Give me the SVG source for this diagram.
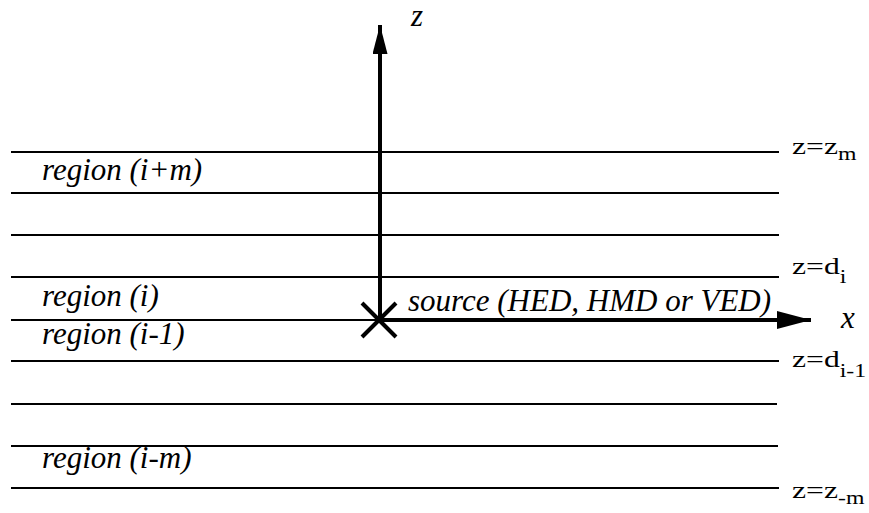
<svg xmlns="http://www.w3.org/2000/svg" width="869" height="513" viewBox="0 0 869 513">
<style>
.ln{stroke:#000;stroke-width:2.2;fill:none}
.ax{stroke:#000;stroke-width:4;fill:none}
.it{font-family:"Liberation Serif","Times New Roman",serif;font-style:italic;font-size:31px;fill:#000}
.rl{font-family:"Liberation Serif","Times New Roman",serif;font-size:24px;fill:#000}
.sb{font-size:18px}
</style>
<defs>
<marker id="ahx" viewBox="0 0 34 18" refX="34" refY="9" markerWidth="34" markerHeight="18" markerUnits="userSpaceOnUse" orient="auto"><path d="M0,0 L34,9 L0,18 Z" fill="#000"/></marker>
<marker id="ahz" viewBox="0 0 29 15" refX="29" refY="7.5" markerWidth="29" markerHeight="15" markerUnits="userSpaceOnUse" orient="auto"><path d="M0,0 L29,7.5 L0,15 Z" fill="#000"/></marker>
</defs>
<g id="layers">
<line class="ln" x1="11" y1="152" x2="779" y2="152"/>
<line class="ln" x1="11" y1="193" x2="779" y2="193"/>
<line class="ln" x1="11" y1="235" x2="779" y2="235"/>
<line class="ln" x1="11" y1="277" x2="779" y2="277"/>
<line class="ln" x1="11" y1="320" x2="779" y2="320"/>
<line class="ln" x1="11" y1="361" x2="779" y2="361"/>
<line class="ln" x1="11" y1="404" x2="777" y2="404"/>
<line class="ln" x1="11" y1="446" x2="778" y2="446"/>
<line class="ln" x1="11" y1="488" x2="779" y2="488"/>
</g>
<g id="connectors">
<line class="ax" x1="380" y1="320" x2="380" y2="25" marker-end="url(#ahz)"/>
<line class="ax" x1="380" y1="320" x2="811" y2="320" marker-end="url(#ahx)"/>
</g>
<g id="source">
<line class="ax" x1="362" y1="303" x2="396" y2="337"/>
<line class="ax" x1="362" y1="337" x2="396" y2="303"/>
<text class="it" x="408" y="311">source (HED, HMD or VED)</text>
</g>
<g id="axis-labels">
<text class="it" x="411" y="26" font-size="28">z</text>
<text class="it" x="841" y="328" font-size="30">x</text>
</g>
<g id="region-labels">
<text class="it" x="42" y="180">region (i+m)</text>
<text class="it" x="42" y="306">region (i)</text>
<text class="it" x="42" y="344">region (i-1)</text>
<text class="it" x="42" y="468">region (i-m)</text>
</g>
<g id="boundary-labels">
<text class="rl" transform="translate(792,154) scale(1.32,1)">z=z<tspan class="sb" dy="6">m</tspan></text>
<text class="rl" transform="translate(792,274) scale(1.32,1)">z=d<tspan class="sb" dy="9">i</tspan></text>
<text class="rl" transform="translate(792,367) scale(1.32,1)">z=d<tspan class="sb" dy="10">i-1</tspan></text>
<text class="rl" transform="translate(792,498) scale(1.32,1)">z=z<tspan class="sb" dy="6">-m</tspan></text>
</g>
</svg>
